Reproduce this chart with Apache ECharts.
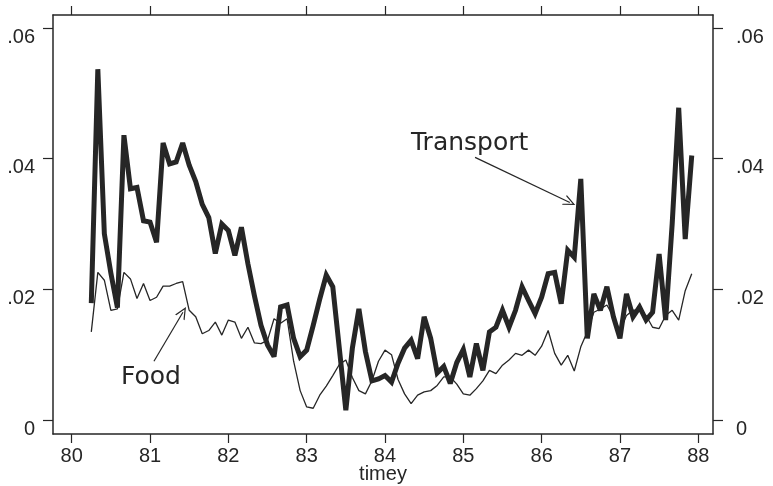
<!DOCTYPE html>
<html>
<head>
<meta charset="utf-8">
<style>
  html, body { margin: 0; padding: 0; background: #fff; }
  #chart { width: 773px; height: 486px; }
</style>
<script src="https://cdn.jsdelivr.net/npm/echarts@6/dist/echarts.min.js"></script>
</head>
<body>
<div id="chart"></div>
<script>
// monthly series, Apr 1980 .. Dec 1987
const startTime = 80.25
const transport = [
  0.0179, 0.0537, 0.0285, 0.0225, 0.0172, 0.0436, 0.0354, 0.0356, 0.0305, 0.0303,
  0.0272, 0.0424, 0.0392, 0.0395, 0.0424, 0.0390, 0.0365, 0.0330, 0.0310, 0.0255,
  0.0300, 0.0290, 0.0252, 0.0295, 0.0239, 0.0190, 0.0145, 0.0115, 0.0097, 0.0173,
  0.0176, 0.0125, 0.0097, 0.0107, 0.0145, 0.0185, 0.0222, 0.0204, 0.0110, 0.0015,
  0.0110, 0.0170, 0.0105, 0.0060, 0.0063, 0.0068, 0.0058, 0.0087, 0.0110, 0.0122,
  0.0094, 0.0158, 0.0125, 0.0072, 0.0082, 0.0056, 0.0088, 0.0108, 0.0066, 0.0117,
  0.0076, 0.0135, 0.0142, 0.0168, 0.0142, 0.0168, 0.0204, 0.0183, 0.0163, 0.0188,
  0.0224, 0.0226, 0.0178, 0.0260, 0.0249, 0.0369, 0.0125, 0.0193, 0.0168, 0.0204,
  0.0158, 0.0125, 0.0193, 0.0158, 0.0173, 0.0153, 0.0165, 0.0254, 0.0153, 0.0300,
  0.0478, 0.0277, 0.0405
]
const food = [
  0.0135, 0.0226, 0.0214, 0.0168, 0.0170, 0.0226, 0.0216, 0.0186, 0.0209, 0.0183,
  0.0188, 0.0205, 0.0205, 0.0209, 0.0212, 0.0168, 0.0158, 0.0132, 0.0137, 0.0150,
  0.0130, 0.0153, 0.0150, 0.0125, 0.0142, 0.0118, 0.0117, 0.0122, 0.0155, 0.0148,
  0.0155, 0.0090, 0.0045, 0.0020, 0.0018, 0.0038, 0.0052, 0.0068, 0.0085, 0.0092,
  0.0065, 0.0045, 0.0040, 0.0060, 0.0090, 0.0107, 0.0100, 0.0062, 0.0040, 0.0025,
  0.0038, 0.0043, 0.0045, 0.0053, 0.0066, 0.0066, 0.0055, 0.0040, 0.0038, 0.0048,
  0.0060, 0.0076, 0.0071, 0.0084, 0.0092, 0.0102, 0.0099, 0.0107, 0.0099, 0.0113,
  0.0137, 0.0102, 0.0084, 0.0099, 0.0075, 0.0112, 0.0135, 0.0165, 0.0170, 0.0176,
  0.0158, 0.0137, 0.0160, 0.0168, 0.0168, 0.0160, 0.0142, 0.0140, 0.0160, 0.0168,
  0.0153, 0.0198, 0.0224
]
const xTicks = [80, 81, 82, 83, 84, 85, 86, 87, 88]
const yTicks = [0, 0.02, 0.04, 0.06]

// annotation arrows, in data units: [from, to]
const transportArrow = [[85.15, 0.0402], [86.36, 0.0333]]
const foodArrow = [[81.05, 0.0090], [81.42, 0.0165]]

const ink = '#262626'
const font = 'Liberation Sans, Arial, sans-serif'
const openHead = 'path://M5,0 L10,10 L8.8,10 L5,2.4 L1.2,10 L0,10 Z'

const timey = transport.map((_, i) => startTime + i / 12)
const pairs = (ys) => ys.map((y, i) => [timey[i], y])
const yFmt = (v) => (Math.abs(v) < 1e-9 ? '0' : v.toFixed(2).replace(/^0/, ''))

function arrowLine(a) {
  return {
    silent: true,
    symbol: ['none', openHead],
    symbolSize: [11, 12],
    lineStyle: { color: ink, width: 1.2, type: 'solid' },
    label: { show: false },
    emphasis: { disabled: true },
    data: [[{ coord: a[0] }, { coord: a[1] }]],
  }
}

const xBase = {
  type: 'value', min: 79.761, max: 88.188,
  axisLine: { show: true, onZero: false, lineStyle: { color: ink, width: 1.5 } },
  axisTick: { show: true, length: 9, customValues: xTicks, lineStyle: { color: ink, width: 1.2 } },
  splitLine: { show: false },
}
const yBase = {
  type: 'value', min: -0.00214, max: 0.062,
  axisLine: { show: true, onZero: false, lineStyle: { color: ink, width: 1.5 } },
  axisTick: { show: true, length: 10, customValues: yTicks, lineStyle: { color: ink, width: 1.2 } },
  splitLine: { show: false },
}
const yLabel = (margin) => ({
  customValues: yTicks, formatter: yFmt, color: ink, fontSize: 20, fontFamily: font,
  margin, verticalAlign: 'top', lineHeight: 18,
})

const chart = echarts.init(document.getElementById('chart'), null, { renderer: 'canvas' })
chart.setOption({
  animation: false,
  backgroundColor: '#fff',
  grid: { left: 53, right: 60, top: 15, bottom: 52, containLabel: false, outerBoundsMode: 'none' },
  xAxis: [
    {
      ...xBase, position: 'bottom',
      axisLabel: { customValues: xTicks, color: ink, fontSize: 20, fontFamily: font, margin: 12 },
      name: 'timey', nameLocation: 'middle', nameGap: 30, nameMoveOverlap: false,
      nameTextStyle: { color: ink, fontSize: 20, fontFamily: font },
    },
    { ...xBase, position: 'top', axisLabel: { show: false } },
  ],
  yAxis: [
    { ...yBase, position: 'left', axisLabel: yLabel(18) },
    { ...yBase, position: 'right', axisLabel: yLabel(23) },
  ],
  series: [
    {
      name: 'Food', type: 'line', data: pairs(food),
      showSymbol: false, silent: true,
      lineStyle: { color: ink, width: 1.3 },
      markLine: arrowLine(foodArrow),
    },
    {
      name: 'Transport', type: 'line', data: pairs(transport),
      showSymbol: false, silent: true,
      lineStyle: { color: ink, width: 5, join: 'miter', miterLimit: 3 },
      markLine: arrowLine(transportArrow),
    },
  ],
  graphic: [
    { type: 'text', left: 411, top: 131, style: { text: 'Transport', font: '25px DejaVu Sans', fill: ink } },
    { type: 'text', left: 121, top: 365, style: { text: 'Food', font: '25px DejaVu Sans', fill: ink } },
  ],
})
</script>
</body>
</html>
